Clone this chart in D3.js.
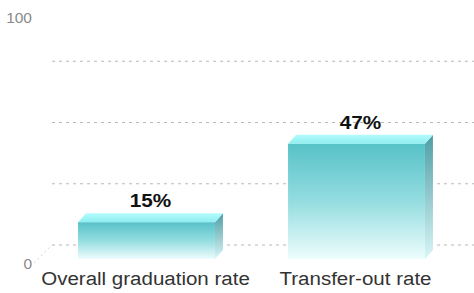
<!DOCTYPE html>
<html>
<head>
<meta charset="utf-8">
<script src="https://cdn.jsdelivr.net/npm/d3@7"></script>
<style>
  html, body { margin: 0; padding: 0; background: #fff; }
  svg { display: block; font-family: "Liberation Sans", Arial, sans-serif; }
</style>
</head>
<body>
<div id="chart"></div>
<script>
// data
const categories = ['Overall graduation rate', 'Transfer-out rate'];
const values = [15, 47];
const valueLabels = ['15%', '47%'];
const gridValues = [25, 50, 75];
const tickLabels = [0, 100];

const W = 474, H = 293;
const svg = d3.select('#chart').append('svg')
  .attr('width', W).attr('height', H);

// front plane scale
const y = d3.scaleLinear().domain([0, 100]).range([259, 14]);
const x = d3.scaleBand().domain(categories)
  .range([41.5, 461.5]).paddingInner(0.348).paddingOuter(0.174);

// depth of back wall and of bars
const wall = { dx: 19, dy: -14 };
const depth = { dx: 8, dy: -9 };
const axisX = 32;

const defs = svg.append('defs');
function vgrad(id, stops) {
  const g = defs.append('linearGradient').attr('id', id)
    .attr('x1', 0).attr('y1', 0).attr('x2', 0).attr('y2', 1);
  stops.forEach(([o, c]) => g.append('stop').attr('offset', o).attr('stop-color', c));
}
vgrad('gFront', [[0, '#57c2c8'], [0.5, '#94dde0'], [1, '#eefdfd']]);
vgrad('gTop', [[0, '#b4fbfb'], [1, '#8eeef0']]);
vgrad('gSide', [[0, '#4f9ea6'], [1, '#d9f5f6']]);

// back wall gridlines (dotted)
const grid = svg.append('g').attr('stroke', '#b8b8b8')
  .attr('stroke-dasharray', '3,4').attr('fill', 'none');
[0].concat(gridValues).forEach(v => {
  grid.append('line')
    .attr('x1', axisX + wall.dx + 1).attr('x2', W)
    .attr('y1', y(v) + wall.dy).attr('y2', y(v) + wall.dy);
});
// floor diagonal
grid.append('line')
  .attr('x1', axisX + 2).attr('y1', y(0) + 4)
  .attr('x2', axisX + wall.dx + 1).attr('y2', y(0) + wall.dy)
  .attr('stroke', '#d4d4d4').attr('stroke-dasharray', '2,3');

// axis tick labels
svg.append('g').selectAll('text').data(tickLabels).join('text')
  .attr('x', axisX)
  .attr('y', d => d === 0 ? y(d) + 10 : y(d) + 9)
  .attr('text-anchor', 'end')
  .attr('font-size', 15.5).attr('fill', '#8a8a8a')
  .text(d => d);

// 3D bars
const bars = svg.append('g').selectAll('g').data(categories).join('g');
bars.each(function(c, i) {
  const g = d3.select(this);
  const x0 = x(c), x1 = x(c) + x.bandwidth();
  const yt = y(values[i]), yb = y(0);
  // side face
  g.append('path')
    .attr('d', `M${x1},${yt}L${x1 + depth.dx},${yt + depth.dy}L${x1 + depth.dx},${yb + depth.dy}L${x1},${yb}Z`)
    .attr('fill', 'url(#gSide)');
  // top face
  g.append('path')
    .attr('d', `M${x0},${yt}L${x0 + depth.dx},${yt + depth.dy}L${x1 + depth.dx},${yt + depth.dy}L${x1},${yt}Z`)
    .attr('fill', 'url(#gTop)');
  // front face
  g.append('rect')
    .attr('x', x0).attr('y', yt)
    .attr('width', x.bandwidth()).attr('height', yb - yt)
    .attr('fill', 'url(#gFront)');
  // value label (slightly wide, like the original)
  const cx = x0 + x.bandwidth() / 2 + 4;
  g.append('text')
    .attr('transform', `translate(${cx},${yt + depth.dy - 6}) scale(1.12,1)`)
    .attr('text-anchor', 'middle')
    .attr('font-size', 18.5).attr('font-weight', 'bold').attr('fill', '#111')
    .text(valueLabels[i]);
});

// category labels
svg.append('g').selectAll('text').data(categories).join('text')
  .attr('transform', d => `translate(${x(d) + x.bandwidth() / 2 - 1},285) scale(1.08,1)`)
  .attr('text-anchor', 'middle')
  .attr('font-size', 19).attr('fill', '#333')
  .text(d => d);
</script>
</body>
</html>
